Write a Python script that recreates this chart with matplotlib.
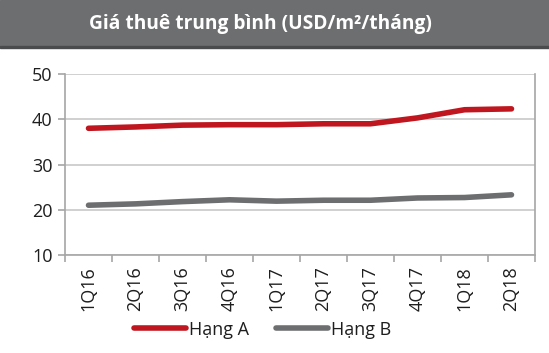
import numpy as np
import matplotlib.pyplot as plt
from matplotlib.patches import Rectangle

plt.rcParams['font.family'] = ['Open Sans', 'DejaVu Sans']

quarters = ["1Q16", "2Q16", "3Q16", "4Q16", "1Q17", "2Q17", "3Q17", "4Q17", "1Q18", "2Q18"]
hang_a = [38.0, 38.3, 38.7, 38.8, 38.8, 39.0, 39.0, 40.3, 42.1, 42.3]
hang_b = [21.0, 21.3, 21.8, 22.2, 21.9, 22.1, 22.1, 22.6, 22.7, 23.3]

red = "#c0161f"
grey = "#6d6e70"
axis_grey = "#a6a6a6"
text_col = "#1e1e1e"

fig = plt.figure(figsize=(5.49, 3.53), dpi=100)

# title banner
fig.patches.append(Rectangle((0, 1 - 47 / 353), 1, 47 / 353, transform=fig.transFigure,
                             color=grey, zorder=0))
fig.patches.append(Rectangle((0, 1 - 48 / 353), 1, 2 / 353, transform=fig.transFigure,
                             color="#4a4b4d", zorder=0))
fig.text(0.475, 1 - 24 / 353, "Giá thuê trung bình (USD/m²/tháng)", color="white",
         fontsize=13.8, fontweight="bold", ha="center", va="center")

ax = fig.add_axes([65 / 549, 1 - 255 / 353, 470 / 549, 181 / 353])
x = np.arange(len(quarters))
ax.plot(x, hang_a, color=red, lw=4, solid_capstyle="round", label="Hạng A", zorder=3)
ax.plot(x, hang_b, color=grey, lw=4, solid_capstyle="round", label="Hạng B", zorder=3)

ax.set_xlim(-0.5, len(quarters) - 0.5)
ax.set_ylim(10, 50)
ax.set_yticks([10, 20, 30, 40, 50])
ax.set_xticks(x)
ax.set_xticklabels(quarters, rotation=90)
ax.set_xticks(np.arange(-0.5, len(quarters)), minor=True)
ax.tick_params(axis="x", which="major", length=0, pad=8, labelsize=13, labelcolor=text_col)
ax.tick_params(axis="x", which="minor", length=5, color=axis_grey, width=1.2)
ax.tick_params(axis="y", length=5, color=axis_grey, width=1.2, labelsize=13,
               labelcolor=text_col, pad=4)
ax.grid(axis="y", color="#c8c8c8", lw=1.2)
for s in ax.spines.values():
    s.set_color(axis_grey)
    s.set_linewidth(1.2)
ax.spines["top"].set_visible(False)

leg = fig.legend(loc="lower center", bbox_to_anchor=(0.478, -0.005), ncol=2, frameon=False,
                 fontsize=13, handlelength=2.9, handletextpad=0.15, columnspacing=1.5)
for t in leg.get_texts():
    t.set_color(text_col)

fig.savefig("out.png", dpi=100)
